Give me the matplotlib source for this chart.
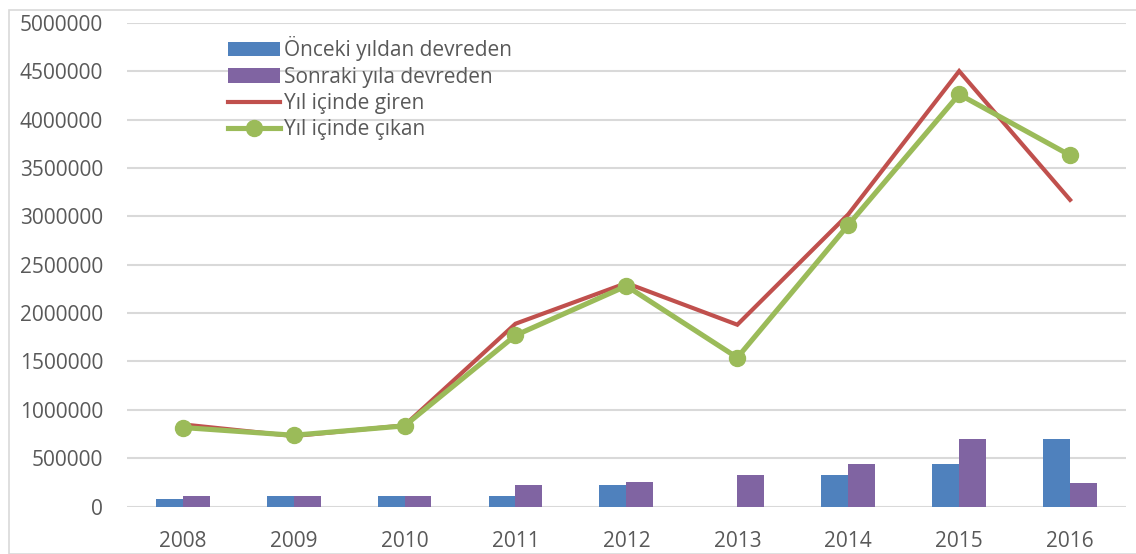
import matplotlib
matplotlib.use("Agg")
import matplotlib.pyplot as plt
import numpy as np
from matplotlib.patches import Rectangle

years = ["2008", "2009", "2010", "2011", "2012", "2013", "2014", "2015", "2016"]
onceki = [80000, 115000, 115000, 115000, 228000, 0, 325000, 445000, 697000]
sonraki = [115000, 115000, 115000, 228000, 258000, 325000, 445000, 697000, 246000]
giren = [850000, 730000, 840000, 1890000, 2310000, 1880000, 3020000, 4500000, 3170000]
cikan = [818000, 738000, 835000, 1770000, 2280000, 1540000, 2910000, 4260000, 3630000]
yticks = [0, 500000, 1000000, 1500000, 2000000, 2500000, 3000000, 3500000, 4000000, 4500000, 5000000]
labels = ["Önceki yıldan devreden", "Sonraki yıla devreden", "Yıl içinde giren", "Yıl içinde çıkan"]

plt.rcParams['font.family'] = ['Open Sans', 'DejaVu Sans']

fig = plt.figure(figsize=(11.36, 5.54), dpi=100)
ax = fig.add_axes([0.112, 0.0854, 0.8788, 0.8736])

x = np.arange(len(years))
w = 0.243
b1 = ax.bar(x - w/2, onceki, w, color="#4F81BD", label=labels[0], zorder=2)
b2 = ax.bar(x + w/2, sonraki, w, color="#8064A2", label=labels[1], zorder=2)
l1, = ax.plot(x, giren, color="#C0504D", lw=3.0, label=labels[2], zorder=3, solid_joinstyle='miter')
l2, = ax.plot(x, cikan, color="#9BBB59", lw=3.7, marker='o', ms=11.5, label=labels[3], zorder=4)

ax.set_xlim(-0.5, len(years) - 0.5)
ax.set_ylim(0, 5000000)
ax.set_yticks(yticks)
ax.set_yticklabels([str(v) for v in yticks])
ax.set_xticks(x)
ax.set_xticklabels(years)
ax.grid(axis='y', color="#d9d9d9", lw=1.5, zorder=0)
ax.set_axisbelow(True)
for s in ax.spines.values():
    s.set_visible(False)
ax.tick_params(axis='both', length=0, labelsize=15, colors="#595959")
ax.tick_params(axis='y', pad=17.4)
ax.tick_params(axis='x', pad=17.4)

leg = ax.legend(handles=[b1, b2, l1, l2], loc='upper left', bbox_to_anchor=(0.1934, 0.9494),
                bbox_transform=fig.transFigure, frameon=False, fontsize=15,
                handlelength=2.5, handletextpad=0.2, labelspacing=0.255, borderaxespad=0)
for t in leg.get_texts():
    t.set_color("#595959")

fig.patches.append(Rectangle((9/1136, 0), 1.2, (554-10)/554, transform=fig.transFigure,
                             fill=False, edgecolor="#d9d9d9", lw=1.2))

fig.savefig("out.png", dpi=100)
